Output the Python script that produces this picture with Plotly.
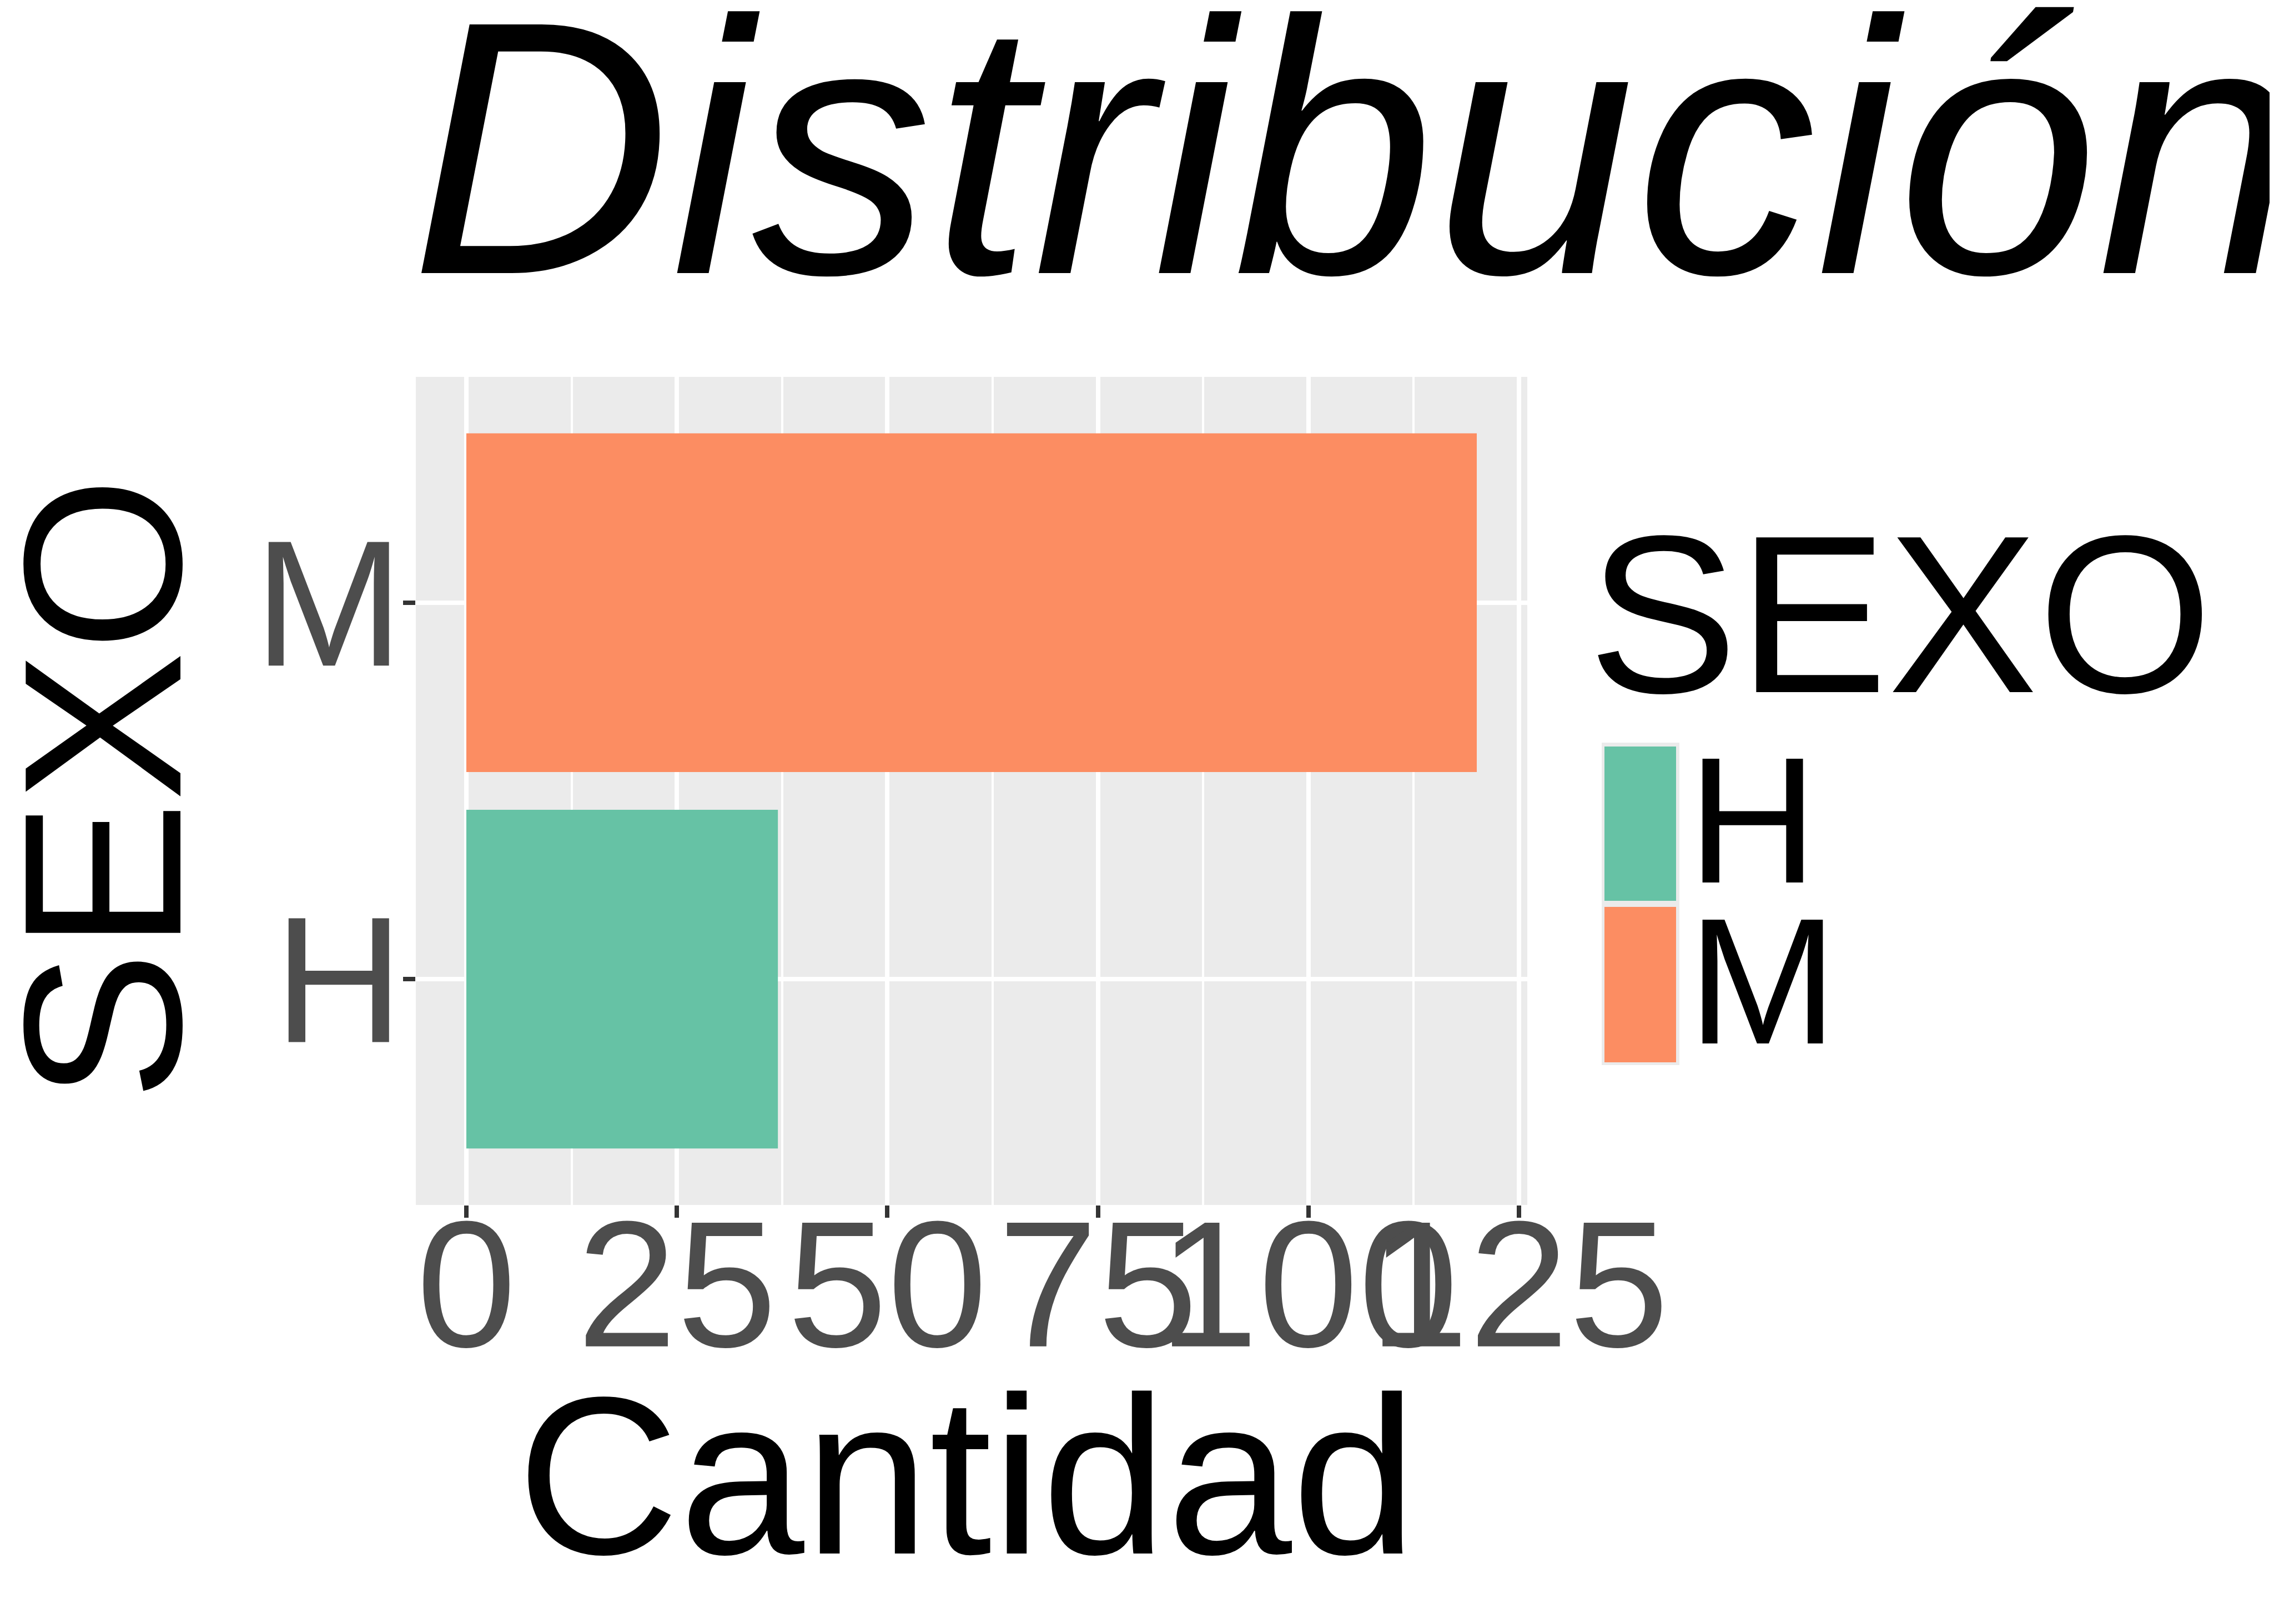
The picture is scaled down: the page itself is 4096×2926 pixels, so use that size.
import plotly.graph_objects as go

# ---- data ----
categories = ["H", "M"]
cantidad = [37, 120]
colors = ["#66C2A5", "#FC8D62"]
x_ticks = [0, 25, 50, 75, 100, 125]
x_tick_labels = ["0", "25", "50", "75", "100", "125"]
title_text = "<i>Distribución por SEXO</i>"
x_title = "Cantidad"
y_title = "SEXO"
legend_title = "SEXO"

# ---- layout geometry (window pixels) ----
W, H = 4096, 2926
PL, PR, PT, PB = 741, 2743, 671, 2163
pw, ph = PR - PL, PB - PT


def px(xp):
    return (xp - PL) / pw


def py(yp):
    return (PB - yp) / ph


FONT = "Liberation Sans, Arial, sans-serif"
TITLE_SIZE = 651
LAB_SIZE = 405
TICK_SIZE = 324

fig = go.Figure()
fig.add_trace(go.Bar(
    y=categories, x=cantidad, orientation="h",
    marker=dict(color=colors, line=dict(width=0)),
    showlegend=False, hoverinfo="x+y",
))

shapes = []
annotations = []

# titles
annotations.append(dict(text=title_text, xref="paper", yref="paper",
                        x=px(729), y=py(260), xanchor="left", yanchor="middle",
                        showarrow=False, font=dict(family=FONT, size=TITLE_SIZE, color="black")))
annotations.append(dict(text=y_title, xref="paper", yref="paper", textangle=-90,
                        x=px(176), y=py(1414), xanchor="center", yanchor="middle",
                        showarrow=False, font=dict(family=FONT, size=LAB_SIZE, color="black")))
annotations.append(dict(text=x_title, xref="paper", yref="paper",
                        x=px(1733), y=py(2650), xanchor="center", yanchor="middle",
                        showarrow=False, font=dict(family=FONT, size=LAB_SIZE, color="black")))

# legend (manual)
annotations.append(dict(text=legend_title, xref="paper", yref="paper",
                        x=px(2850), y=py(1098), xanchor="left", yanchor="middle",
                        showarrow=False, font=dict(family=FONT, size=LAB_SIZE, color="black")))
shapes.append(dict(type="rect", xref="paper", yref="paper",
                   x0=px(2877), x1=px(3017), y0=py(1330), y1=py(1911),
                   fillcolor="#EBEBEB", line=dict(width=0), layer="above"))
key_tops = [1337, 1626]
key_bots = [1615, 1906]
for i, cat in enumerate(categories):
    shapes.append(dict(type="rect", xref="paper", yref="paper",
                       x0=px(2882), x1=px(3011), y0=py(key_tops[i]), y1=py(key_bots[i]),
                       fillcolor=colors[i], line=dict(width=0), layer="above"))
    annotations.append(dict(text=cat, xref="paper", yref="paper",
                            x=px(3030), y=py((key_tops[i] + key_bots[i]) / 2 - 6),
                            xanchor="left", yanchor="middle", showarrow=False,
                            font=dict(family=FONT, size=TICK_SIZE, color="black")))

fig.update_layout(
    width=W, height=H,
    margin=dict(l=PL, r=W - PR, t=PT, b=H - PB, autoexpand=False),
    paper_bgcolor="white", plot_bgcolor="#EBEBEB",
    bargap=0.1,
    showlegend=False,
    shapes=shapes, annotations=annotations,
    font=dict(family=FONT),
)
fig.update_xaxes(
    range=[-6, 126], tickmode="array", tickvals=x_ticks, ticktext=x_tick_labels,
    tickangle=0,
    showgrid=True, gridcolor="white", gridwidth=7.8, zeroline=False,
    minor=dict(tickmode="array", tickvals=[12.5, 37.5, 62.5, 87.5, 112.5],
               showgrid=True, gridcolor="white", gridwidth=3.9, ticks=""),
    ticks="outside", ticklen=22, tickwidth=7.8, tickcolor="#333333",
    tickfont=dict(family=FONT, size=TICK_SIZE, color="#4D4D4D"),
    ticklabelstandoff=-157,
    showline=False,
)
fig.update_yaxes(
    type="category", categoryorder="array", categoryarray=categories,
    range=[-0.6, 1.6],
    showgrid=True, gridcolor="white", gridwidth=7.8, zeroline=False,
    ticks="outside", ticklen=22, tickwidth=7.8, tickcolor="#333333",
    tickfont=dict(family=FONT, size=TICK_SIZE, color="#4D4D4D"),
    ticklabelstandoff=-66,
    showline=False,
)

fig.write_html("out.html")
